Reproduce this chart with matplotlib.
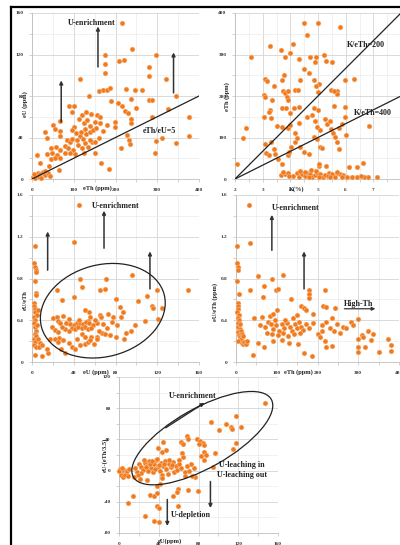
import matplotlib
matplotlib.use("Agg")
import matplotlib.pyplot as plt
from matplotlib.ticker import MultipleLocator, FormatStrFormatter
from matplotlib.patches import Ellipse
from matplotlib.lines import Line2D

plt.rcParams['font.family'] = ['Liberation Serif', 'DejaVu Serif']

# ---------------- data ----------------
# panel A: eTh (ppm) vs eU (ppm)
a_pts = [(216,150),(296,120),(240,125),(176,120),(176,111),(176,102),(208,114),(220,115),(280,108),
         (320,96),(114,96),(280,99),(344,80),(136,80),(160,85),(170,86),(180,86),(188,88),(226,87),
         (246,86),(264,86),(236,77),(190,75),(206,73),(216,70),(280,76),(288,76),(88,70),(100,70),
         (96,65),(142,63),(155,62),(162,60),(222,66),(230,64),(326,67),(250,68),(198,55),(198,50),
         (164,54),(124,54),(132,57),(140,51),(152,55),(288,60),(376,60),(238,58),(238,54),(100,50),
         (68,56),(50,52),(54,48),(66,46),(30,45),(36,40),(66,41),(84,38),(92,36),(96,39),(108,38),
         (116,41),(122,39),(130,43),(138,45),(146,47),(154,49),(111,33),(119,30),(127,35),(135,31),
         (143,36),(78,32),(86,30),(98,28),(312,40),(296,37),(344,35),(376,41),(228,42),(232,38),
         (214,30),(234,34),(294,25),(46,30),(58,31),(66,28),(36,24),(48,25),(60,23),(12,23),(78,25),
         (90,25),(102,24),(124,25),(150,25),(46,19),(54,20),(66,20),(166,15),(184,10),(64,9),(40,13),
         (18,15),(2,2),(6,4),(10,3),(14,6),(20,5),(26,7),(32,4),(38,6),(42,3),(8,1),(16,2),(22,1),
         (30,8),(4,5),(128,48),(118,45),(106,44),(160,40),(150,36),(140,38),(170,46),(180,52),(95,47),
         (120,62),(130,65),(112,58)]
a_eth = [p[0] for p in a_pts]
a_eu = [p[1] for p in a_pts]

# panel B: K (%) vs eTh (ppm)
b_pts = [(4.49,375),(4.99,375),(5.81,366),(4.60,346),(4.10,326),(3.28,320),(2.59,295),(3.67,310),
         (3.98,304),(3.80,295),(4.30,290),(4.70,295),(4.93,295),(4.90,282),(5.20,300),(5.29,284),
         (5.50,281),(4.50,266),(4.66,255),(4.36,238),(4.16,215),(4.28,215),(4.84,238),(5.03,230),
         (4.93,223),(3.07,240),(3.16,235),(3.40,225),(3.70,238),(3.78,250),(3.75,213),(3.82,208),
         (3.88,198),(3.90,190),(3.06,202),(3.08,198),(3.34,190),(3.90,211),(5.48,215),(5.69,213),
         (5.69,205),(5.98,238),(6.29,240),(5.57,213),(5.00,210),(5.96,174),(5.57,175),(5.00,166),
         (4.84,172),(4.12,172),(4.30,174),(3.70,172),(3.85,170),(4.00,160),(3.25,166),(3.22,162),
         (3.31,147),(3.04,150),(3.52,127),(3.70,126),(3.90,122),(4.00,130),(4.18,110),(4.30,134),
         (4.60,150),(4.78,155),(4.90,140),(4.96,125),(5.06,118),(5.26,145),(5.32,133),(5.44,140),
         (5.48,120),(5.54,110),(5.75,123),(5.87,133),(5.99,150),(6.00,107),(6.83,128),(2.39,124),
         (2.29,100),(2.07,35),(3.07,85),(3.30,88),(3.40,73),(3.12,62),(3.24,57),(3.46,60),(3.55,47),
         (3.70,36),(3.90,57),(3.96,65),(4.02,78),(4.18,90),(4.24,98),(4.36,77),(4.48,65),(4.66,61),
         (4.84,101),(4.96,97),(5.06,78),(5.14,74),(5.62,101),(5.70,90),(5.75,73),(5.02,32),(5.02,36),
         (5.30,32),(6.13,30),(6.40,30),(6.61,39),(6.80,5),(7.13,6),(3.65,10),(3.82,12),(3.90,14),
         (4.24,14),(4.30,6),(4.42,12),(4.54,8),(4.60,14),(4.72,12),(4.78,6),(4.90,10),(4.96,14),
         (5.08,12),(5.18,6),(5.26,10),(5.38,14),(5.50,12),(5.62,6),(5.68,14),(5.80,12),(5.92,10),
         (6.04,6),(6.22,4),(6.40,4),(6.65,4),(3.72,18),(4.35,20),(4.75,22),(4.93,20),(5.35,8),
         (5.45,4),(4.10,8),(4.66,4),(5.85,4),(6.55,8),(3.95,8),(4.52,18),(5.05,4),(5.70,18)]
b_k = [p[0] for p in b_pts]
b_eth = [p[1] for p in b_pts]

# panel C: eU (ppm) vs eU/eTh
c_pts = [(45.4,1.50),(40.2,1.15),(2.6,1.11),(2.0,0.95),(2.6,0.91),(3.5,0.88),(3.8,0.86),(2.9,0.78),
         (3.5,0.66),(3.8,0.64),(2.2,0.57),(1.6,0.54),(2.9,0.51),(2.6,0.48),(1.9,0.43),(3.2,0.40),
         (2.2,0.37),(2.9,0.34),(3.5,0.30),(2.6,0.27),(2.2,0.22),(3.2,0.19),(1.9,0.16),(3.8,0.14),
         (4.5,0.45),(5.0,0.35),(4.2,0.25),(5.5,0.50),(6.1,0.22),(7.7,0.18),(7.0,0.14),(9.3,0.16),
         (3.0,0.07),(10.0,0.06),(15.7,0.09),(46.0,0.80),(47.6,0.72),(71.0,0.80),(65.0,0.69),
         (70.0,0.70),(95.5,0.83),(24.0,0.69),(28.4,0.59),(40.0,0.62),(80.0,0.60),(102.0,0.58),
         (110.0,0.63),(115.0,0.54),(116.0,0.52),(120.0,0.69),(125.0,0.52),(149.0,0.69),(121.0,0.41),
         (108.0,0.39),(95.0,0.30),(99.0,0.35),(84.0,0.53),(87.0,0.48),(85.0,0.43),(73,0.46),(78,0.43),
         (77,0.38),(72,0.33),(81,0.35),(80,0.24),(65,0.45),(66,0.43),(55,0.48),(56,0.43),(54,0.39),
         (51,0.50),(33,0.37),(36,0.36),(40,0.35),(43,0.37),(46,0.37),(49,0.36),(52,0.38),(55,0.37),
         (58,0.35),(62,0.37),(38,0.33),(41,0.32),(44,0.34),(48,0.33),(51,0.34),(54,0.32),(57,0.33),
         (35,0.30),(32,0.32),(29,0.34),(20,0.42),(24,0.43),(25,0.39),(27,0.37),(19,0.34),(22,0.31),
         (25,0.29),(26,0.23),(30,0.21),(35,0.18),(38,0.14),(41,0.12),(46,0.16),(51,0.17),(54,0.19),
         (57,0.24),(62,0.24),(67,0.28),(70,0.27),(75,0.26),(17,0.22),(22,0.22),(25,0.19),(43,0.22),
         (48,0.27),(51,0.24),(56,0.21),(59,0.17),(62,0.22),(90,0.28),(88,0.22),(64,0.30),(68,0.36),
         (60,0.40),(45,0.40),(35,0.41),(30,0.44),(28,0.12),(32,0.09),(14,0.12)]
c_eu = [p[0] for p in c_pts]
c_ratio = [p[1] for p in c_pts]

# panel D: eTh (ppm) vs eU/eTh
d_pts = [(31,1.50),(35,1.14),(2.4,1.11),(3,0.95),(4,0.91),(5,0.88),(3,0.78),(6.5,0.65),(4,0.57),
         (5,0.54),(6,0.51),(3,0.48),(7,0.45),(5,0.42),(8,0.40),(4,0.37),(6,0.34),(9,0.32),(5,0.29),
         (7,0.26),(10,0.24),(12,0.22),(6,0.20),(14,0.18),(17,0.17),(20,0.19),(24,0.17),(28,0.20),
         (11,0.36),(13,0.30),(15,0.27),(18,0.25),(55,0.82),(35,0.69),(68,0.73),(116,0.83),(88,0.80),
         (98,0.69),(103,0.70),(66,0.62),(135,0.60),(178,0.69),(178,0.65),(178,0.61),(219,0.69),
         (214,0.54),(222,0.53),(243,0.52),(160,0.54),(166,0.52),(172,0.50),(190,0.46),(100,0.50),
         (43,0.42),(63,0.43),(84,0.44),(90,0.46),(60,0.35),(70,0.34),(78,0.38),(85,0.36),(92,0.32),
         (98,0.35),(105,0.30),(112,0.36),(118,0.33),(125,0.37),(132,0.34),(138,0.30),(145,0.36),
         (150,0.33),(155,0.38),(160,0.34),(165,0.31),(172,0.36),(180,0.33),(188,0.37),(75,0.28),
         (88,0.27),(102,0.26),(115,0.28),(128,0.25),(142,0.27),(158,0.28),(95,0.40),(120,0.40),
         (140,0.42),(150,0.45),(300,0.41),(283,0.38),(288,0.35),(263,0.34),(271,0.33),(324,0.30),
         (308,0.26),(312,0.24),(331,0.21),(300,0.22),(300,0.14),(300,0.10),(316,0.14),(350,0.10),
         (372,0.22),(381,0.16),(381,0.11),(336,0.27),(202,0.27),(206,0.24),(218,0.20),(222,0.14),
         (235,0.15),(168,0.09),(187,0.06),(42,0.07),(153,0.17),(68,0.14),(55,0.18),(210,0.35),
         (222,0.38),(230,0.33),(240,0.30),(248,0.36),(255,0.28),(236,0.42),(212,0.30),(92,0.20),
         (112,0.21),(130,0.18)]
d_eth = [p[0] for p in d_pts]
d_ratio = [p[1] for p in d_pts]

# panel E: eU (ppm) vs eU-(eTh/3.5)
e_pts = [(147,87),(118,70),(123,56),(108,60),(113,56),(114,53),(101,52),(93,62),(118,36),(115,28),
         (97,23),(68,45),(69,41),(78,41),(82,38),(85,36),(86,33),(62,37),(64,34),(44,37),(80,34),
         (86,24),(88,20),(86,14),(83,19),(95,5),(63,22),(64,17),(60,14),(39,29),(43,24),(47,26),
         (1,2),(3,-2),(5,1),(7,-3),(2,-6),(4,-8),(6,-5),(8,0),(9,-7),(10,2),(0,0),(3,3),(16,3),
         (18,-2),(20,8),(22,5),(24,1),(22,-3),(26,10),(28,6),(30,12),(32,3),(34,-2),(35,8),(37,13),
         (39,5),(41,0),(42,10),(44,6),(46,12),(47,2),(49,-4),(50,8),(52,4),(54,11),(55,-2),(57,6),
         (58,1),(60,9),(62,3),(27,5),(31,9),(36,2),(40,7),(45,9),(50,14),(53,7),(38,15),(33,12),
         (25,14),(29,-1),(19,-6),(15,-8),(43,-5),(66,-2),(70,-1),(75,3),(72,8),(68,6),(66,-7),
         (76,-8),(73,-7),(59,-23),(58,-28),(69,-25),(79,-26),(41,-17),(38,-20),(14,-32),(9,-42),
         (31,-31),(35,-32),(38,-29),(54,-32),(59,-46),(38,-46),(40,-48),(26,-58),(35,-64),(40,-66),
         (21,-11),(28,-12),(43,-10)]
e_eu = [p[0] for p in e_pts]
e_diff = [p[1] for p in e_pts]

ORANGE = '#F07A1E'
W, H = 400, 545

fig = plt.figure(figsize=(4, 5.45), dpi=100)


def px_axes(x0, y0, x1, y1):
    # pixel box (top-left origin) -> axes
    return fig.add_axes([x0 / W, 1 - y1 / H, (x1 - x0) / W, (y1 - y0) / H])


def ptext(x, y, s, **kw):
    fig.text(x / W, 1 - y / H, s, ha='center', va='center', **kw)


def style(ax, xmaj, xmin, ymaj, ymin, yfmt='%g'):
    ax.set_axisbelow(True)
    ax.xaxis.set_major_locator(MultipleLocator(xmaj))
    ax.xaxis.set_minor_locator(MultipleLocator(xmin))
    ax.yaxis.set_major_locator(MultipleLocator(ymaj))
    ax.yaxis.set_minor_locator(MultipleLocator(ymin))
    ax.yaxis.set_major_formatter(FormatStrFormatter(yfmt))
    ax.grid(which='major', color='#d4d4d4', lw=0.6)
    ax.grid(which='minor', color='#ececec', lw=0.5)
    for s in ['top', 'right']:
        ax.spines[s].set_visible(False)
    for s in ['left', 'bottom']:
        ax.spines[s].set_color('#bfbfbf')
        ax.spines[s].set_linewidth(0.6)
    ax.tick_params(which='both', labelsize=3.8, labelcolor='#333333', color='#bfbfbf',
                   length=2, width=0.5, pad=4)
    ax.tick_params(axis='x', pad=4.5)
    for lab in ax.get_xticklabels() + ax.get_yticklabels():
        lab.set_fontweight('bold')


def arrow(ax, x, y0, x1, y1):
    ax.annotate('', xy=(x1, y1), xytext=(x, y0),
                arrowprops=dict(arrowstyle='-|>', color='#333333', lw=1.1, mutation_scale=5,
                                shrinkA=0, shrinkB=0))


lab_kw = dict(fontsize=4.6, fontweight='bold', color='#222222')
txt_kw = dict(fontsize=5.8, fontweight='bold', color='#222222')
sc_kw = dict(s=13, color=ORANGE, edgecolors='#fbd9bd', linewidths=0.3, zorder=3, clip_on=False)

# ---------- A ----------
axA = px_axes(32, 13, 199, 179)
axA.scatter(a_eth, a_eu, **sc_kw)
axA.plot([0, 400], [0, 80], color='#222222', lw=0.9, zorder=4)
axA.set_xlim(0, 400)
axA.set_ylim(0, 160)
style(axA, 100, 50, 40, 20)
arrow(axA, 70, 55, 70, 95)
arrow(axA, 158, 108, 158, 147)
arrow(axA, 339, 83, 339, 122)
axA.text(143, 150, 'U-enrichment', ha='center', va='center', **txt_kw)
axA.text(305, 46, 'eTh/eU=5', ha='center', va='center', **txt_kw)
ptext(25, 104, 'eU (ppm)', rotation=90, **lab_kw)
ptext(97, 188, 'eTh (ppm)', **lab_kw)

# ---------- B ----------
axB = px_axes(235, 13, 401, 179)
axB.scatter(b_k, b_eth, **sc_kw)
axB.plot([2, 8], [0, 400], color='#222222', lw=0.9, zorder=4)
axB.plot([2, 8], [0, 200], color='#222222', lw=0.9, zorder=4)
axB.set_xlim(2, 8)
axB.set_ylim(0, 400)
style(axB, 1, 0.5, 100, 50)
axB.text(6.75, 322, 'K/eTh=200', ha='center', va='center', **txt_kw)
axB.text(7.0, 158, 'K/eTh=400', ha='center', va='center', **txt_kw)
ptext(227, 97, 'eTh (ppm)', rotation=90, **lab_kw)
ptext(297, 189, 'K(%)', **lab_kw)

# ---------- C ----------
axC = px_axes(32, 195, 199, 362)
axC.scatter(c_eu, c_ratio, **sc_kw)
axC.set_xlim(0, 160)
axC.set_ylim(0, 1.6)
style(axC, 40, 20, 0.4, 0.2)
axC.add_patch(Ellipse((0.424, 0.307), 0.76, 0.55, angle=15, transform=axC.transAxes,
                      fill=False, ec='#222222', lw=0.9, zorder=4))
arrow(axC, 15, 0.88, 15, 1.25)
arrow(axC, 69, 1.09, 69, 1.45)
arrow(axC, 113, 0.70, 113, 1.06)
axC.text(80, 1.49, 'U-enrichment', ha='center', va='center', **txt_kw)
ptext(25, 300, 'eU/eTh', rotation=90, **lab_kw)
ptext(96, 372, 'eU (ppm)', **lab_kw)

# ---------- D ----------
axD = px_axes(236, 195, 399, 362)
axD.scatter(d_eth, d_ratio, **sc_kw)
axD.set_xlim(0, 400)
axD.set_ylim(0, 1.6)
style(axD, 100, 50, 0.4, 0.2)
arrow(axD, 88, 1.07, 88, 1.41)
arrow(axD, 167, 0.70, 167, 1.06)
axD.annotate('', xy=(342, 0.51), xytext=(266, 0.51),
             arrowprops=dict(arrowstyle='-|>', color='#333333', lw=0.9, mutation_scale=5,
                             shrinkA=0, shrinkB=0))
axD.text(301, 0.56, 'High-Th', ha='center', va='center', **txt_kw)
axD.text(147, 1.48, 'U-enrichment', ha='center', va='center', **txt_kw)
ptext(215, 302, 'eU/eTh (ppm)', rotation=90, **lab_kw)
ptext(298, 372, 'eTh (ppm)', **lab_kw)

# ---------- E ----------
axE = px_axes(119, 377, 278, 533)
axE.scatter(e_eu, e_diff, **sc_kw)
axE.set_xlim(0, 160)
axE.set_ylim(-80, 120)
style(axE, 40, 20, 40, 20)
axE.add_patch(Ellipse((0.524, 0.608), 1.0, 0.38, angle=30, transform=axE.transAxes,
                      fill=False, ec='#222222', lw=0.9, zorder=4))
arrow(axE, 47, 55, 86, 87)
arrow(axE, 48.6, -37, 48.6, -71)
arrow(axE, 92, -14, 92, -48)
axE.text(74, 95, 'U-enrichment', ha='center', va='center', **txt_kw)
axE.text(72, -57, 'U-depletion', ha='center', va='center', **txt_kw)
axE.text(124, 7, 'U-leaching in', ha='center', va='center', **txt_kw)
axE.text(124, -5.5, 'U-leaching out', ha='center', va='center', **txt_kw)
ptext(105, 455, 'eU-(eTh/3.5)', rotation=90, **lab_kw)
ptext(170, 541, 'eU(ppm)', **lab_kw)

# frame of the composite
fig.add_artist(Line2D([11 / W, 11 / W], [0, 1 - 7 / H], color='black', lw=1.6))
fig.add_artist(Line2D([11 / W, 1], [1 - 7 / H, 1 - 7 / H], color='black', lw=1.6))

fig.savefig('out.png', dpi=100)
